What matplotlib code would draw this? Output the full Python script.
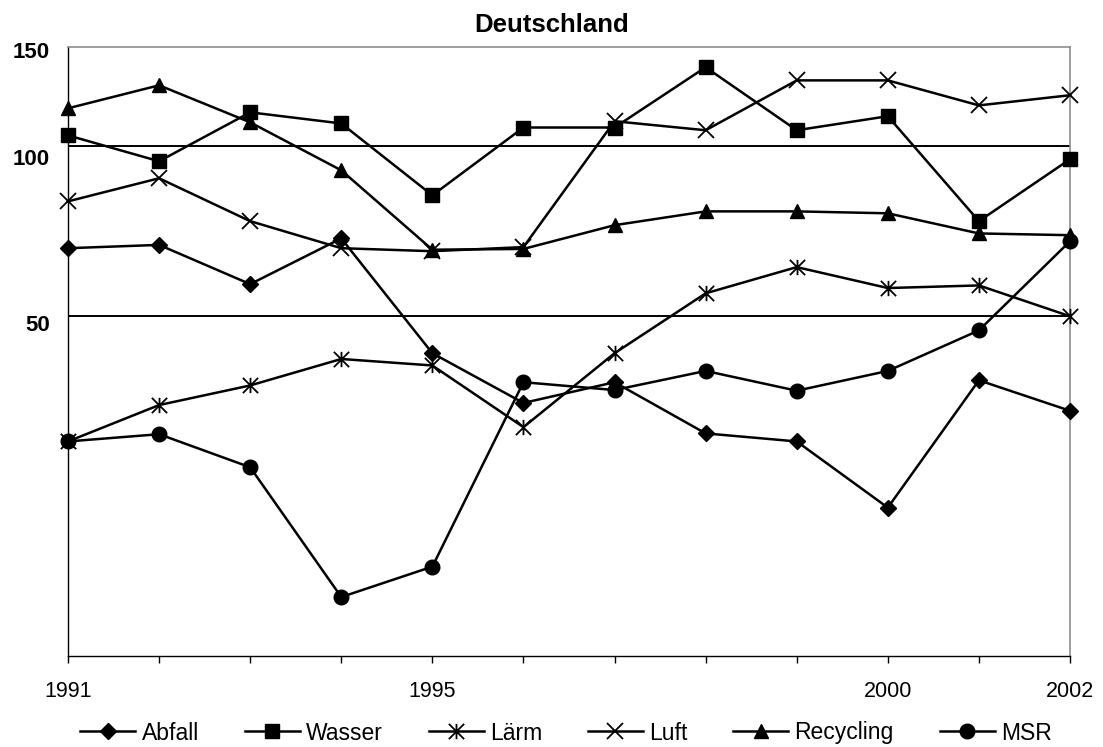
import matplotlib
matplotlib.use("Agg")
import matplotlib.pyplot as plt
import matplotlib.transforms as mtransforms
from matplotlib.path import Path

plt.rcParams['font.family'] = ['Liberation Sans', 'DejaVu Sans']

years = list(range(1991, 2003))
abfall = [66.0, 66.9, 57.0, 68.7, 43.0, 35.1, 38.2, 31.0, 30.0, 22.9, 38.5, 34.0]
wasser = [104.6, 94.1, 114.9, 109.8, 81.9, 108.0, 108.0, 138.1, 106.8, 113.1, 73.7, 94.9]
laerm = [30.0, 34.8, 37.7, 42.0, 40.9, 31.8, 43.0, 54.9, 61.1, 56.1, 56.7, 50.0]
luft = [79.9, 87.8, 73.7, 66.0, 65.2, 66.3, 110.8, 106.8, 130.9, 130.9, 118.2, 123.2]
recycling = [116.8, 128.3, 110.3, 90.7, 65.6, 65.8, 72.5, 76.7, 76.7, 76.1, 70.1, 69.6]
msr = [30.0, 30.9, 27.0, 15.9, 18.0, 38.2, 37.0, 40.0, 36.9, 40.0, 47.2, 67.9]

series_names = ['Abfall', 'Wasser', 'Lärm', 'Luft', 'Recycling', 'MSR']
y_ticks = [150, 100, 50]
grid_values = [100, 50]
x_labelled = [1991, 1995, 2000, 2002]

# Excel-style star marker: vertical bar plus diagonal cross
star = Path([(0, -1), (0, 1), (-1, -1), (1, 1), (-1, 1), (1, -1)],
            [Path.MOVETO, Path.LINETO, Path.MOVETO, Path.LINETO,
             Path.MOVETO, Path.LINETO])

styles = [
    dict(marker='D', markersize=8.3),
    dict(marker='s', markersize=10),
    dict(marker=star, markersize=11, markeredgewidth=1.3),
    dict(marker='x', markersize=11, markeredgewidth=1.3),
    dict(marker='^', markersize=10.5),
    dict(marker='o', markersize=10.5),
]

fig = plt.figure(figsize=(11.03, 7.47), dpi=100)
ax = fig.add_axes([68 / 1103, 1 - 656 / 747, (1070 - 68) / 1103, (656 - 47) / 747])

ax.set_yscale('log')
ax.set_ylim(12.5, 150)
ax.set_xlim(1991, 2002)

for v in grid_values:
    ax.axhline(v, color='black', lw=1.4, zorder=1)

for name, data, st in zip(series_names, [abfall, wasser, laerm, luft, recycling, msr], styles):
    ax.plot(years, data, color='black', lw=1.8, label=name,
            markerfacecolor='black', markeredgecolor='black',
            clip_on=False, zorder=3, **st)

# y axis: bold labels, no tick marks
ax.yaxis.set_minor_locator(matplotlib.ticker.NullLocator())
ax.set_yticks(y_ticks)
ax.set_yticklabels([str(v) for v in y_ticks], fontsize=16, fontweight='bold')
ax.tick_params(axis='y', length=0, pad=13)
label_shift_px = [3.5, 11, 6.5]
for lab, dy in zip(ax.get_yticklabels(), label_shift_px):
    lab.set_transform(lab.get_transform() +
                      mtransforms.ScaledTranslation(0, -dy / 100, fig.dpi_scale_trans))

# x axis: tick at every year, labels only at selected years
ax.set_xticks(years)
ax.set_xticklabels([str(y) if y in x_labelled else '' for y in years], fontsize=15.5)
ax.tick_params(axis='x', direction='out', length=5, width=1, pad=13, color='black')

for side in ['top', 'right']:
    ax.spines[side].set_color('#8c8c8c')
    ax.spines[side].set_linewidth(1.2)
for side in ['left', 'bottom']:
    ax.spines[side].set_color('black')
    ax.spines[side].set_linewidth(1.0)

fig.text(0.5, 1 - 31.5 / 747, 'Deutschland', ha='center', va='baseline',
         fontsize=18.5, fontweight='bold')

fig.legend(loc='center', bbox_to_anchor=(566 / 1103, 1 - 733 / 747), ncol=6, frameon=False,
           fontsize=16.5, handlelength=2.4, handletextpad=0.27, columnspacing=2.0,
           borderaxespad=0, borderpad=0)

fig.savefig('out.png', dpi=100)
